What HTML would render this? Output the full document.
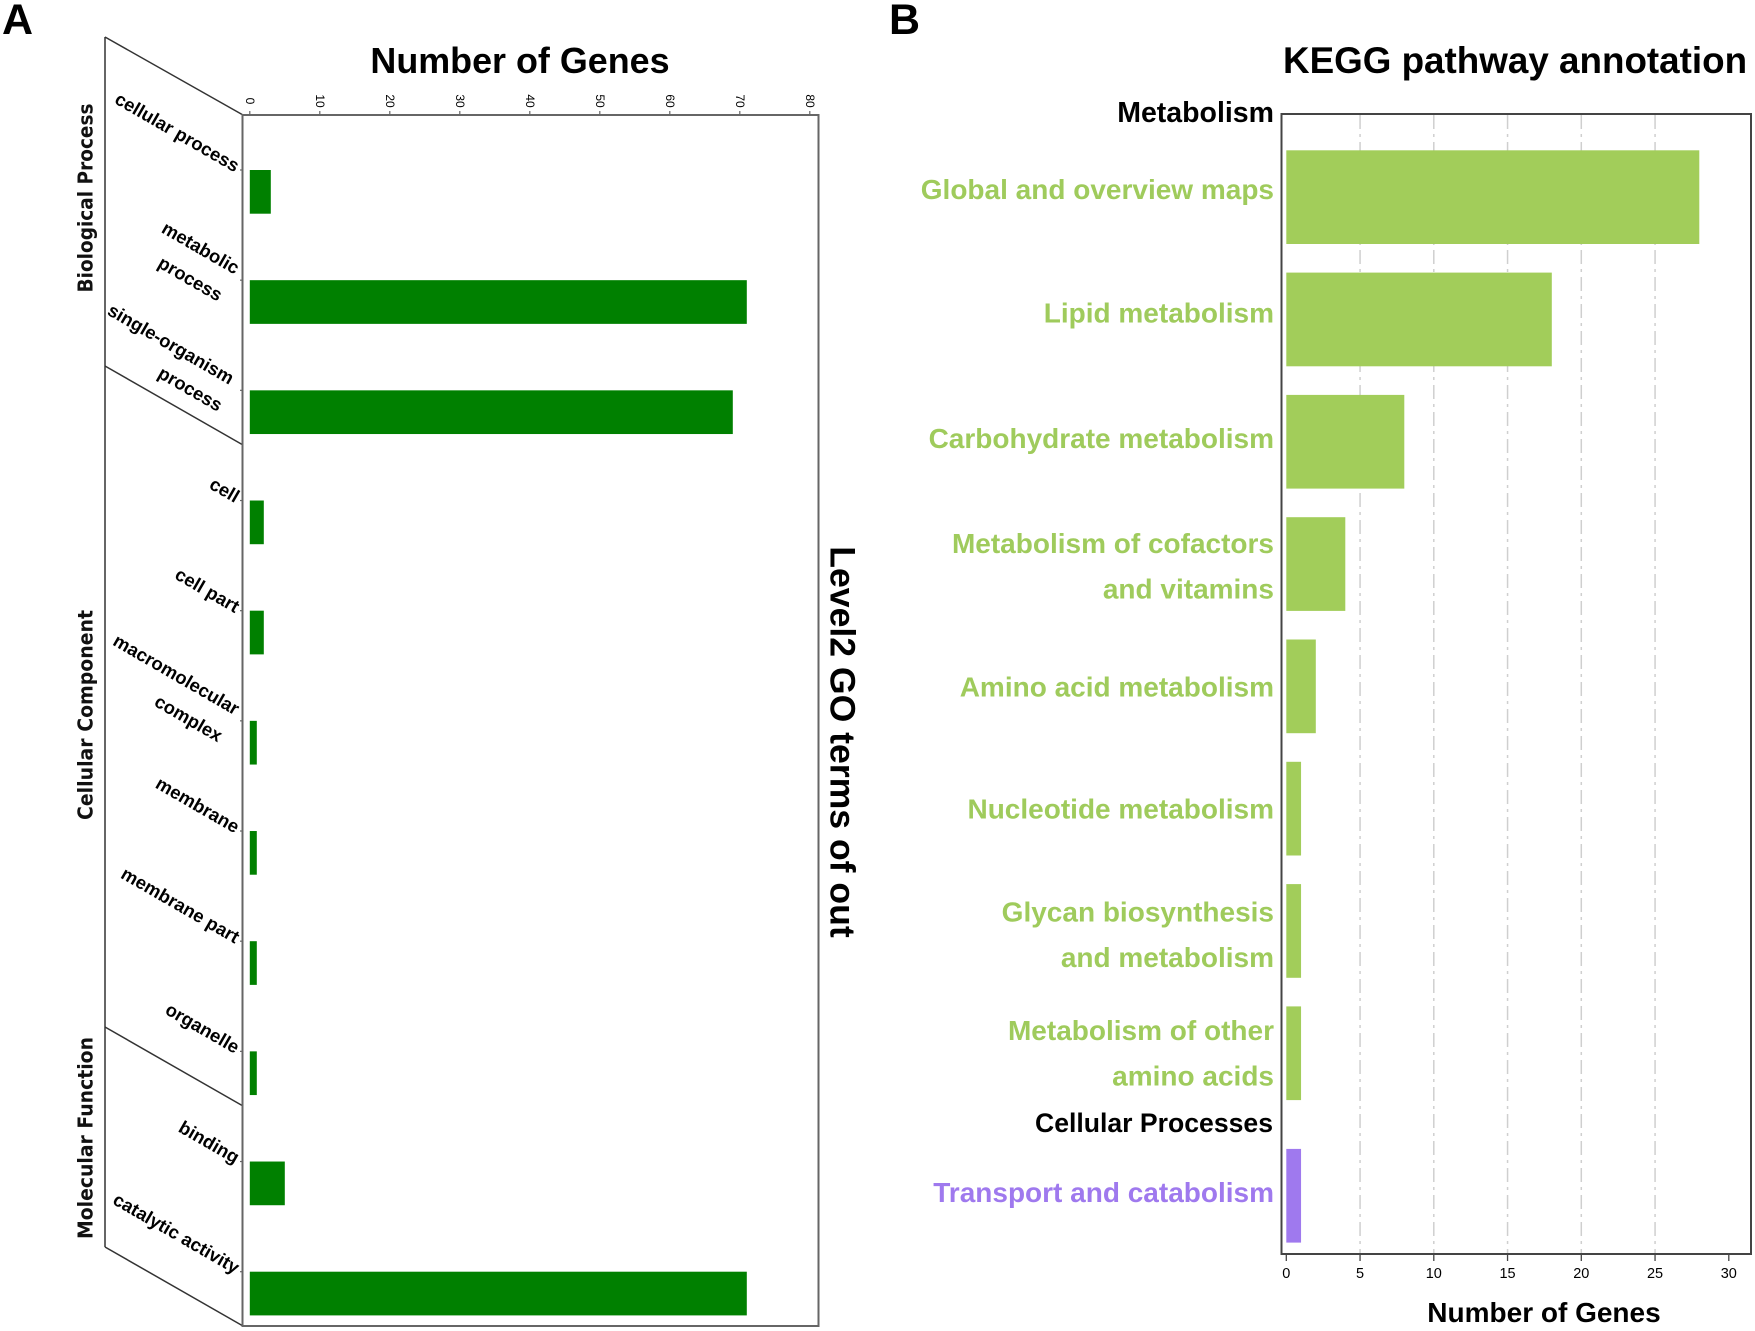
<!DOCTYPE html>
<html>
<head>
<meta charset="utf-8">
<title>GO and KEGG annotation of genes</title>
<style>
html,body{margin:0;padding:0;background:#fff;width:1755px;height:1331px;overflow:hidden}
svg{display:block;position:absolute;left:0;top:0}
text{font-family:"Liberation Sans",sans-serif;font-weight:bold;fill:#000}
.group{font-family:"DejaVu Sans",sans-serif;font-size:20px;fill:#111}
</style>
</head>
<body>
<svg id="figure" width="1755" height="1331" viewBox="0 0 1755 1331" xmlns="http://www.w3.org/2000/svg">
  <text x="2" y="34" font-size="43">A</text>
  <text x="889" y="34" font-size="43">B</text>

  <g id="panelA">
    <text x="520" y="73" font-size="35.9" text-anchor="middle">Number of Genes</text>
    <text transform="translate(830.5,742) rotate(90)" font-size="35.6" text-anchor="middle">Level2 GO terms of out</text>
    <text class="group" transform="translate(92.5,198) rotate(-90)" text-anchor="middle" textLength="189" lengthAdjust="spacingAndGlyphs">Biological Process</text>
    <text class="group" transform="translate(92.5,715) rotate(-90)" text-anchor="middle" textLength="210" lengthAdjust="spacingAndGlyphs">Cellular Component</text>
    <text class="group" transform="translate(92.5,1138) rotate(-90)" text-anchor="middle" textLength="202" lengthAdjust="spacingAndGlyphs">Molecular Function</text>
    <g stroke="#333" stroke-width="1.5" fill="none">
      <line x1="105" y1="37" x2="105" y2="1247"/>
      <line x1="105" y1="37" x2="243" y2="115"/>
      <line x1="105" y1="366" x2="243" y2="445"/>
      <line x1="105" y1="1027" x2="243" y2="1106"/>
      <line x1="105" y1="1247" x2="243" y2="1326"/>
    </g>
    <rect x="242.5" y="115" width="576" height="1211" fill="none" stroke="#666" stroke-width="2"/>
  </g>

  <g id="panelB">
    <text x="1283" y="73" font-size="36.8">KEGG pathway annotation</text>
    <text x="1544" y="1322" font-size="28" text-anchor="middle">Number of Genes</text>
    <text x="1274" y="122" font-size="28.5" text-anchor="end">Metabolism</text>
    <text x="1273" y="1132" font-size="26.6" text-anchor="end">Cellular Processes</text>
  </g>
</svg>
<script>
// GO chart data
const goCategories = [["cellular process"],["metabolic","process"],["single-organism","process"],["cell"],["cell part"],["macromolecular","complex"],["membrane"],["membrane part"],["organelle"],["binding"],["catalytic activity"]];
const goValues = [3,71,69,2,2,1,1,1,1,5,71];
const goTicks = [0,10,20,30,40,50,60,70,80];

// KEGG chart data
const keggCategories = [["Global and overview maps"],["Lipid metabolism"],["Carbohydrate metabolism"],["Metabolism of cofactors","and vitamins"],["Amino acid metabolism"],["Nucleotide metabolism"],["Glycan biosynthesis","and metabolism"],["Metabolism of other","amino acids"],["Transport and catabolism"]];
const keggValues = [28,18,8,4,2,1,1,1,1];
const keggGroups = [0,0,0,0,0,0,0,0,1];
const keggTicks = [0,5,10,15,20,25,30];
const keggGridTicks = [5,10,15,20,25];

const NS = "http://www.w3.org/2000/svg";
function make(tag, parent, attrs) {
  const el = document.createElementNS(NS, tag);
  for (const k in attrs) el.setAttribute(k, attrs[k]);
  parent.appendChild(el);
  return el;
}

// ----- Panel A -----
const panelA = document.getElementById("panelA");
const xA = v => 249.8 + v * 7.0;
const yA = i => 170 + i * 110.17;
const barHeightA = 43.7;

goTicks.forEach(t => {
  const tick = make("line", panelA, {x1: xA(t), x2: xA(t), y1: 111, y2: 115, stroke: "#666", "stroke-width": 1.2});
  
  
  const label = make("text", panelA, {transform: `translate(${xA(t)},101) rotate(90)`, "font-size": 12, "text-anchor": "middle", "dominant-baseline": "central"});
  label.style.fontWeight = "normal";
  
  
  label.textContent = t;
});

goValues.forEach((v, i) => {
  const bar = make("rect", panelA, {x: xA(0), y: yA(i), width: xA(v) - xA(0), height: barHeightA, fill: "#008000"});
  
  
  const tick = make("line", panelA, {x1: 240, x2: 243, y1: yA(i), y2: yA(i), stroke: "#666", "stroke-width": 1.2});
  
  
  const lines = goCategories[i];
  lines.forEach((line, j) => {
    const two = lines.length === 2;
    const shift = i === 2 && j === 0 ? -5.5 : 0;
    const ex = (two && j === 1 ? 221 : 238) + shift;
    const ey = yA(i) + (two ? (j === 0 ? -11 : 16) : -3);
    const label = make("text", panelA, {transform: `translate(${ex},${ey}) rotate(30)`, "font-size": 18.4, "text-anchor": "end", "dominant-baseline": "central"});
    
    
    label.textContent = line;
  });
});

// ----- Panel B -----
const panelB = document.getElementById("panelB");
const xB = v => 1286.3 + v * 14.75;
const yB = i => 150.3 + i * 122.3 + keggGroups[i] * 20.2;
const barHeightB = 93.7;
const keggColors = ["#a2cd5a", "#9f79ee"];
const labelNudge = [2, 3, 6, 11.5, 10, 10, 13.5, 9.5, 6];
const labelPitch = 45.5;

keggGridTicks.forEach(t => {
  const grid = make("line", panelB, {x1: xB(t), x2: xB(t), y1: 115, y2: 1254, stroke: "#cfcfcf", "stroke-width": 1.5, "stroke-dasharray": "14 5 3 5"});
  
  
});

keggValues.forEach((v, i) => {
  const color = keggColors[keggGroups[i]];
  const bar = make("rect", panelB, {x: xB(0), y: yB(i), width: xB(v) - xB(0), height: barHeightB, fill: color});
  
  
  const lines = keggCategories[i];
  const mid = yB(i) + barHeightB / 2 + labelNudge[i];
  lines.forEach((line, j) => {
    const y = mid + (j - (lines.length - 1) / 2) * labelPitch;
    const label = make("text", panelB, {x: 1274, y: y, "font-size": 28, "text-anchor": "end", fill: color});
    label.style.fill = color === keggColors[0] ? "#9fcb5c" : color;
    
    
    label.textContent = line;
  });
});

const frameB = make("rect", panelB, {x: 1281.5, y: 114, width: 469.5, height: 1140, fill: "none", stroke: "#444", "stroke-width": 2});



keggTicks.forEach(t => {
  const tick = make("line", panelB, {x1: xB(t), x2: xB(t), y1: 1254, y2: 1261, stroke: "#444", "stroke-width": 1.3});
  
  
  const label = make("text", panelB, {x: xB(t), y: 1278, "font-size": 14.5, "text-anchor": "middle"});
  label.style.fontWeight = "normal";
  
  
  label.textContent = t;
});
</script>
</body>
</html>
